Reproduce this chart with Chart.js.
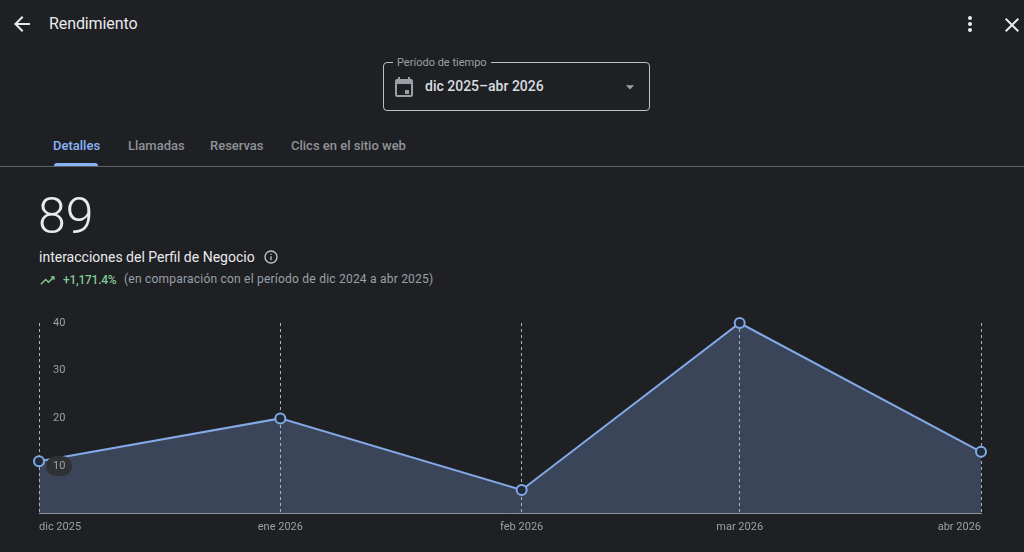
<!DOCTYPE html>
<html lang="es">
<head>
<meta charset="utf-8">
<title>Rendimiento</title>
<script src="https://cdn.jsdelivr.net/npm/chart.js"></script>
<style>
    html, body { margin: 0; padding: 0; background: #1f2024; }
    body { width: 1024px; height: 552px; position: relative; overflow: hidden; font-family: Roboto, sans-serif; color: #e8eaed; }
    .abs { position: absolute; white-space: nowrap; line-height: 1; }
    svg { position: absolute; display: block; }
    .tab { top: 139px; font-size: 13px; font-weight: 500; color: #8f9398; }
    #range { left: 383px; top: 62px; width: 265px; height: 47px; border: 1px solid #bdc1c6; border-radius: 4px; box-sizing: content-box; }
    #chartWrap { position: absolute; left: 0; top: 300px; width: 1024px; height: 252px; }
</style>
</head>
<body>
    <!-- barra superior -->
    <svg style="left:10px;top:12px" width="24" height="24" viewBox="0 0 24 24" fill="#e8eaed"><path d="M20 11H7.83l5.59-5.59L12 4l-8 8 8 8 1.41-1.41L7.83 13H20v-2z"/></svg>
    <div class="abs" style="left:49px;top:16px;font-size:16px;letter-spacing:-0.1px;color:#e8eaed">Rendimiento</div>
    <svg style="left:958px;top:12px" width="24" height="24" viewBox="0 0 24 24" fill="#e8eaed"><circle cx="12" cy="6" r="2"/><circle cx="12" cy="12" r="2"/><circle cx="12" cy="18" r="2"/></svg>
    <svg style="left:1000px;top:13px" width="24" height="24" viewBox="0 0 24 24" fill="#e8eaed"><path d="M19 6.41 17.59 5 12 10.59 6.41 5 5 6.41 10.59 12 5 17.59 6.41 19 12 13.41 17.59 19 19 17.59 13.41 12z"/></svg>

    <!-- selector de periodo -->
    <div id="range" class="abs"></div>
    <div class="abs" style="left:393px;top:57px;padding:0 4px;background:#1f2024;font-size:11px;color:#9aa0a6">Período de tiempo</div>
    <svg style="left:392px;top:75px" width="24" height="24" viewBox="0 0 24 24" fill="#9aa0a6"><path d="M19 4h-1V2h-2v2H8V2H6v2H5a2 2 0 0 0-2 2v14a2 2 0 0 0 2 2h14a2 2 0 0 0 2-2V6a2 2 0 0 0-2-2zm0 16H5V9h14v11zm-6-5h4v4h-4z"/></svg>
    <div class="abs" style="left:425px;top:79px;font-size:14px;font-weight:500;color:#dadce0">dic 2025–abr 2026</div>
    <svg style="left:620px;top:77px" width="20" height="20" viewBox="0 0 24 24" fill="#9aa0a6"><path d="M7 10l5 5 5-5z"/></svg>

    <!-- pestañas -->
    <div class="abs tab" style="left:53px;color:#8ab4f8">Detalles</div>
    <div class="abs tab" style="left:128px">Llamadas</div>
    <div class="abs tab" style="left:210px">Reservas</div>
    <div class="abs tab" style="left:291px">Clics en el sitio web</div>
    <div class="abs" style="left:54px;top:163px;width:44px;height:3px;background:#8ab4f8;border-radius:3px 3px 0 0"></div>
    <div class="abs" style="left:0;top:166px;width:1024px;height:1px;background:#5f6368"></div>

    <!-- resumen -->
    <div class="abs" style="left:38px;top:191px;font-size:50px;font-weight:300;color:#e8eaed">89</div>
    <div class="abs" style="left:39px;top:250px;font-size:14px;color:#e8eaed">interacciones del Perfil de Negocio</div>
    <svg style="left:263px;top:249px" width="16" height="16" viewBox="0 0 24 24" fill="#bdc1c6"><path d="M11 7h2v2h-2zm0 4h2v6h-2zm1-9a10 10 0 1 0 0 20 10 10 0 0 0 0-20zm0 18a8 8 0 1 1 0-16 8 8 0 0 1 0 16z"/></svg>
    <svg style="left:39px;top:272px" width="17" height="17" viewBox="0 0 24 24" fill="#81c995"><path d="M16 6l2.29 2.29-4.88 4.88-4-4L2 16.59 3.41 18l6-6 4 4 6.3-6.29L22 12V6z"/></svg>
    <div class="abs" style="left:63px;top:274px;font-size:12px;font-weight:500;letter-spacing:-0.25px;color:#81c995">+1,171.4%</div>
    <div class="abs" style="left:124px;top:273px;font-size:12px;letter-spacing:0.22px;color:#9aa0a6">(en comparación con el período de dic 2024 a abr 2025)</div>

    <div id="chartWrap"><canvas id="perfChart" width="1024" height="252"></canvas></div>

<script>
const months = ['dic 2025', 'ene 2026', 'feb 2026', 'mar 2026', 'abr 2026'];
// dias desde el 1 de diciembre: febrero es mas corto, los meses no caen a distancia fija
const monthDays = [0, 31, 62, 90, 121];
const interactions = [11, 20, 5, 40, 13];
const yMax = 40;
const yStep = 10;
const highlightedTick = 10;

// pastilla oscura detras de la etiqueta del eje que cruza la linea
const tickPill = {
    id: 'tickPill',
    afterDatasetsDraw(chart) {
        const ctx = chart.ctx;
        const y = chart.scales.y.getPixelForValue(highlightedTick);
        ctx.save();
        ctx.fillStyle = '#303134';
        ctx.beginPath();
        ctx.roundRect(chart.scales.x.left + 7, y - 10, 26, 20, 10);
        ctx.fill();
        ctx.restore();
    }
};

const perfCtx = document.getElementById('perfChart').getContext('2d');
const perfChart = new Chart(perfCtx, {
    type: 'line',
    plugins: [tickPill],
    data: {
        datasets: [{
            data: monthDays.map((day, i) => ({ x: day, y: interactions[i] })),
            borderColor: '#83a9e6',
            backgroundColor: 'rgba(138, 180, 248, 0.25)',
            borderWidth: 2,
            pointBackgroundColor: '#202a38',
            pointBorderColor: '#83a9e6',
            pointBorderWidth: 2,
            pointRadius: 5,
            tension: 0,
            fill: true,
            clip: false
        }]
    },
    options: {
        responsive: false,
        animation: false,
        layout: { padding: { left: 39, right: 43, top: 23, bottom: 11 } },
        plugins: {
            legend: { display: false },
            tooltip: { enabled: false }
        },
        scales: {
            x: {
                type: 'linear',
                min: monthDays[0],
                max: monthDays[monthDays.length - 1],
                afterBuildTicks: axis => { axis.ticks = monthDays.map(value => ({ value })); },
                // el dash del borde es el que usan las lineas verticales de la rejilla
                border: { color: '#8a8d91', width: 1, dash: [3, 3] },
                grid: {
                    color: '#aeb1b6',
                    z: -1,
                    lineWidth: 1,
                    drawTicks: false
                },
                ticks: {
                    align: 'inner',
                    autoSkip: false,
                    maxRotation: 0,
                    padding: 7,
                    color: '#9aa0a6',
                    font: { family: 'Roboto', size: 11 },
                    callback: value => months[monthDays.indexOf(value)]
                }
            },
            y: {
                min: 0,
                max: yMax,
                border: { display: false },
                grid: { display: false, drawTicks: false },
                // las etiquetas van dentro del area, el eje no ocupa ancho
                afterFit: scale => { scale.width = 0; },
                ticks: {
                    stepSize: yStep,
                    mirror: true,
                    padding: 14,
                    z: 1,
                    color: '#9aa0a6',
                    font: { family: 'Roboto', size: 11 },
                    callback: value => (value === 0 ? '' : value)
                }
            }
        }
    }
});
</script>
</body>
</html>
